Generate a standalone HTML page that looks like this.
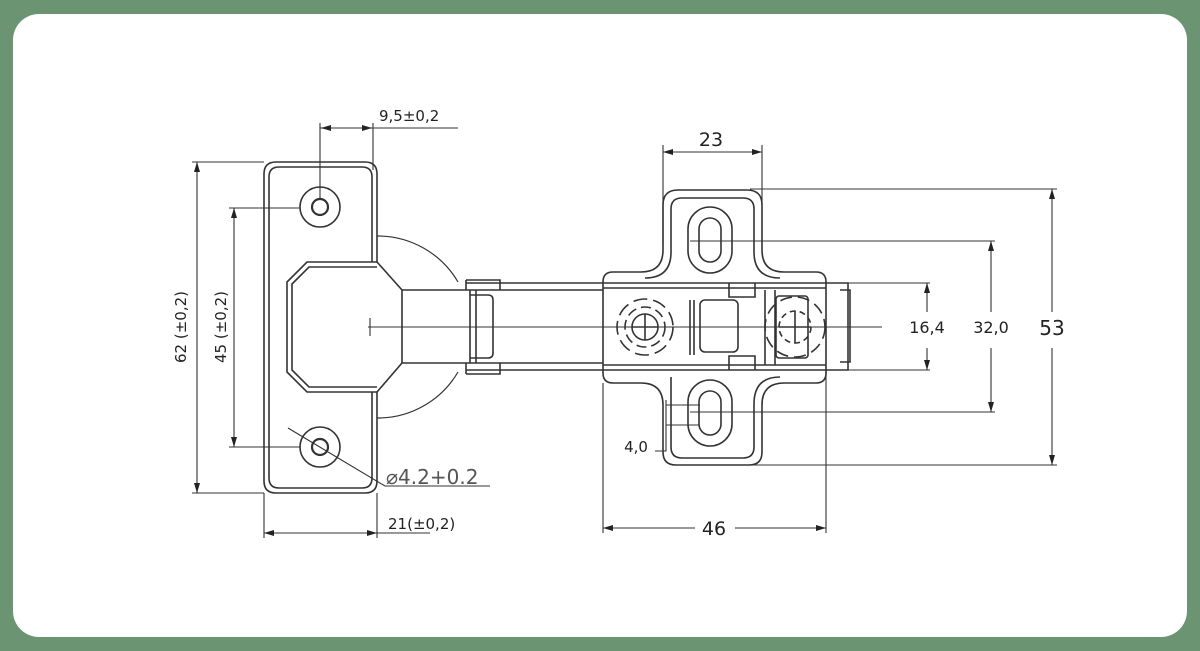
<!DOCTYPE html>
<html><head><meta charset="utf-8"><style>
html,body{margin:0;padding:0;background:#6b9572;width:1200px;height:651px;overflow:hidden}
.card{position:absolute;left:13px;top:14px;width:1174px;height:623px;background:#fff;border-radius:26px}
svg{position:absolute;left:0;top:0}
text{font-family:"DejaVu Sans","Liberation Sans",sans-serif;fill:#222}
</style></head><body>
<div class="card"></div>
<svg width="1200" height="651" viewBox="0 0 1200 651">
<defs>
<marker id="a" viewBox="0 0 10 6" refX="10" refY="3" markerWidth="10" markerHeight="6" orient="auto-start-reverse" markerUnits="userSpaceOnUse"><path d="M0,0 L10,3 L0,6 z" fill="#222"/></marker>
</defs>
<g fill="none" stroke="#333" stroke-width="1.6">
<!-- cup arc -->
<path d="M377,236 A93,93 0 0 1 458,282 M458,372 A93,93 0 0 1 377,418" stroke-width="1.2"/>
<!-- left plate -->
<path d="M377,262 V174 Q377,162 365,162 H276 Q264,162 264,174 V481 Q264,493 276,493 H365 Q377,493 377,481 V392"/>
<path d="M372,262 V177 Q372,167 362,167 H279 Q269,167 269,177 V478 Q269,488 279,488 H362 Q372,488 372,478 V392"/>
<path d="M377,262 H307 L287,282 V372 L307,392 H377"/>
<path d="M377,267 H309 L292,284 V370 L309,387 H377"/>
<path d="M377,262 L402,290 M377,392 L402,363"/>
<!-- arm -->
<path d="M402,290 H603 M402,363 H603 M402,290 V363"/>
<path d="M466,283 H603 M466,370 H603 M466,280 H500 V290 M466,280 V290 M466,374 H500 V363 M466,374 V363"/>
<path d="M470,295 H488 Q493,295 493,300 V353 Q493,358 488,358 H470 M470,290 V363 M476,290 V363"/>
<!-- holes -->
<circle cx="320" cy="207" r="20"/><circle cx="320" cy="207" r="8" stroke-width="2.2"/>
<circle cx="320" cy="447" r="20"/><circle cx="320" cy="447" r="8" stroke-width="2.2"/>
<!-- right plate outer -->
<path d="M678,190 H747 Q762,190 762,205 V250 Q762,272 784,272 H816 Q826,272 826,282 V373 Q826,383 816,383 H784 Q762,383 762,405 V452 Q762,465 749,465 H676 Q663,465 663,452 V405 Q663,383 641,383 H613 Q603,383 603,373 V282 Q603,272 613,272 H641 Q663,272 663,250 V205 Q663,190 678,190 Z"/>
<path d="M682,198 H743 Q754,198 754,209 V252 Q754,278 780,278 M682,198 Q671,198 671,209 V252 Q671,278 645,278 M671,377 Q671,400 671,402 V447 Q671,458 682,458 H743 Q754,458 754,447 V404 Q754,377 780,377"/>
<rect x="688" y="207" width="44" height="66" rx="22"/><rect x="699" y="218" width="22" height="44" rx="11"/>
<rect x="688" y="380" width="44" height="66" rx="22"/><rect x="699" y="391" width="22" height="44" rx="11"/>
<path d="M603,283 H826 M603,288 H826 M603,365 H826 M603,370 H826"/>
<path d="M826,283 H848 V370 H826 M840,290 H850 V362 H840"/>
<path d="M729,283 V297 H755 V283 M729,370 V356 H755 V370"/>
<path d="M765,290 V365 M775,290 V365"/>
<rect x="700" y="300" width="38" height="52" rx="5"/>
<path d="M690,300 V355 M694,300 V355"/>
<rect x="776" y="296" width="32" height="62" rx="3"/>
<circle cx="645" cy="327" r="28" stroke-dasharray="14 6"/>
<circle cx="645" cy="327" r="20" stroke-dasharray="10 5"/>
<circle cx="645" cy="327" r="13"/>
<path d="M645,314 V340 M632,327 H658"/>
<circle cx="795" cy="327" r="30" stroke-dasharray="12 6"/>
<circle cx="795" cy="327" r="16" stroke-dasharray="6 4"/>
<path d="M795,311 V343 M779,327 H811"/>
</g>
<g fill="none" stroke="#333" stroke-width="1.1">
<path d="M368,327 H882 M370,318 V336"/>
<path d="M320,123 V200 M373,123 V170 M320,128 H458"/>
<line x1="330" y1="128" x2="321" y2="128" marker-end="url(#a)"/><line x1="363" y1="128" x2="372" y2="128" marker-end="url(#a)"/>
<path d="M192,162 H264 M192,493 H264"/>
<line x1="197" y1="162" x2="197" y2="493" marker-start="url(#a)" marker-end="url(#a)"/>
<path d="M229,208 H300 M229,447 H300"/>
<line x1="234" y1="208" x2="234" y2="447" marker-start="url(#a)" marker-end="url(#a)"/>
<path d="M264,493 V538 M377,493 V538 M377,533 H430"/>
<line x1="264" y1="533" x2="377" y2="533" marker-start="url(#a)" marker-end="url(#a)"/>
<path d="M288,428 L385,486 H490"/>
<path d="M663,145 V245 M762,145 V205"/>
<line x1="663" y1="152" x2="762" y2="152" marker-start="url(#a)" marker-end="url(#a)"/>
<path d="M750,189 H1057 M740,465 H1057"/>
<line x1="1052" y1="189" x2="1052" y2="312" marker-start="url(#a)"/><line x1="1052" y1="348" x2="1052" y2="465" marker-end="url(#a)"/>
<path d="M690,241 H995 M690,412 H995"/>
<line x1="991" y1="241" x2="991" y2="312" marker-start="url(#a)"/><line x1="991" y1="348" x2="991" y2="412" marker-end="url(#a)"/>
<path d="M848,283 H930 M848,370 H930"/>
<line x1="927" y1="283" x2="927" y2="312" marker-start="url(#a)"/><line x1="927" y1="348" x2="927" y2="370" marker-end="url(#a)"/>
<path d="M603,383 V533 M826,370 V533"/>
<line x1="603" y1="528" x2="695" y2="528" marker-start="url(#a)"/><line x1="735" y1="528" x2="826" y2="528" marker-end="url(#a)"/>
<path d="M655,451 H666 V400 M666,405 H700 M666,425 H700"/>
</g>
<text x="379" y="121" font-size="15">9,5±0,2</text>
<text transform="translate(186,327) rotate(-90)" font-size="15" text-anchor="middle">62 (±0,2)</text>
<text transform="translate(226,327) rotate(-90)" font-size="15" text-anchor="middle">45 (±0,2)</text>
<text x="388" y="529" font-size="15">21(±0,2)</text>
<text x="386" y="484" font-size="20" style="fill:#555">⌀4.2+0.2</text>
<text x="711" y="146" font-size="19" text-anchor="middle">23</text>
<text x="714" y="535" font-size="19" text-anchor="middle">46</text>
<text x="1052" y="335" font-size="20" text-anchor="middle">53</text>
<text x="991" y="333" font-size="16" text-anchor="middle">32,0</text>
<text x="927" y="333" font-size="16" text-anchor="middle">16,4</text>
<text x="636" y="452" font-size="15" text-anchor="middle">4,0</text>
</svg>
</body></html>
